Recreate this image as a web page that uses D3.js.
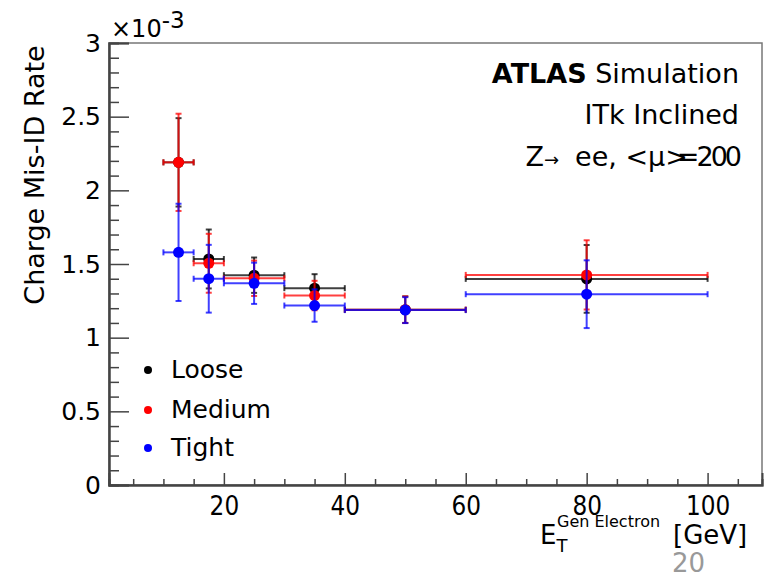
<!DOCTYPE html>
<html><head><meta charset="utf-8">
<script src="https://cdn.jsdelivr.net/npm/d3@7"></script>
<style>
body{margin:0;background:#fff;}
text{font-family:"DejaVu Sans",sans-serif;}
</style></head>
<body><svg id="c" width="776" height="572"></svg>
<script>
// ---- data (rate ×10^-3) ----
const binLow  = [10, 15, 20, 30, 40, 60];
const binHigh = [15, 20, 30, 40, 60, 100];
const binCenter = [12.5, 17.5, 25, 35, 50, 80];
const looseVal  = [2.19, 1.534, 1.424, 1.336, 1.19, 1.399];
const looseErr  = [0.30, 0.20, 0.12, 0.095, 0.09, 0.23];
const mediumVal = [2.19, 1.505, 1.403, 1.286, 1.19, 1.426];
const mediumErr = [0.33, 0.20, 0.12, 0.10, 0.09, 0.235];
const tightVal  = [1.579, 1.40, 1.369, 1.218, 1.187, 1.295];
const tightErr  = [0.33, 0.23, 0.14, 0.11, 0.088, 0.23];
const seriesNames = ["Loose", "Medium", "Tight"];
const seriesColors = ["#000000", "#ff0000", "#0000ff"];
const xMajor = [20, 40, 60, 80, 100];
const yMajor = [0, 0.5, 1, 1.5, 2, 2.5, 3];
const yTickLabels = ["0", "0.5", "1", "1.5", "2", "2.5", "3"];

const svg = d3.select("#c");
svg.append("rect").attr("width",776).attr("height",572).attr("fill","#fff");
const L=109, R=762, T=43, B=485;
const x = d3.scaleLinear().domain([1,109]).range([L,R]);
const y = d3.scaleLinear().domain([0,3]).range([B,T]);
const axisCol="#444";

// frame
svg.append("rect").attr("x",L).attr("y",T).attr("width",R-L).attr("height",B-T)
  .attr("fill","none").attr("stroke","#777").attr("stroke-width",1.5);

// x axis
const xMinor = d3.range(5,110,5).filter(v=>!xMajor.includes(v));
const gxm = svg.append("g").attr("transform",`translate(0,${B})`)
  .call(d3.axisBottom(x).tickValues(xMinor).tickSize(-6).tickFormat(""));
const gx = svg.append("g").attr("transform",`translate(0,${B})`)
  .call(d3.axisBottom(x).tickValues(xMajor).tickSize(-12).tickPadding(11).tickFormat(d3.format("d")));
[gx,gxm].forEach(g=>{g.select(".domain").attr("stroke",axisCol).attr("stroke-width",2);
  g.selectAll(".tick line").attr("stroke",axisCol).attr("stroke-width",1.5);});
gx.selectAll(".tick text").attr("font-size",27).attr("fill","#000").attr("transform","scale(0.86,1)");

// y axis
const yMinor = d3.range(0,31).map(i=>i/10).filter(v=>!yMajor.some(m=>Math.abs(m-v)<1e-9));
const gym = svg.append("g").attr("transform",`translate(${L},0)`)
  .call(d3.axisLeft(y).tickValues(yMinor).tickSize(-10).tickFormat(""));
const gy = svg.append("g").attr("transform",`translate(${L},0)`)
  .call(d3.axisLeft(y).tickValues(yMajor).tickSize(-20).tickPadding(8)
     .tickFormat((d,i)=>yTickLabels[i]));
[gy,gym].forEach(g=>{g.select(".domain").attr("stroke",axisCol).attr("stroke-width",2);
  g.selectAll(".tick line").attr("stroke",axisCol).attr("stroke-width",1.5);});
gy.selectAll(".tick text").attr("font-size",25).attr("fill","#000");

// ×10^-3
const mult = svg.append("text").attr("x",111).attr("y",37).attr("font-size",24).attr("fill","#000");
mult.append("tspan").text("×10");
mult.append("tspan").attr("dy",-9).attr("font-size",23).text("-3");

// y title
svg.append("text").attr("transform","translate(44,175) rotate(-90)")
  .attr("text-anchor","middle").attr("font-size",27).attr("fill","#000").text("Charge Mis-ID Rate");

// x title
const xt = svg.append("text").attr("x",540).attr("y",544).attr("font-size",26).attr("fill","#000");
xt.append("tspan").text("E");
xt.append("tspan").attr("dy",8).attr("font-size",18).text("T");
xt.append("tspan").attr("x",557).attr("y",527).attr("font-size",16).text("Gen Electron");
xt.append("tspan").attr("x",673).attr("y",544).text("[GeV]");

// page number
svg.append("text").attr("x",672).attr("y",572).attr("font-size",26).attr("fill","#999").text("20");

// labels
svg.append("text").attr("x",739).attr("y",83).attr("text-anchor","end").attr("font-size",27)
  .html('<tspan font-weight="bold">ATLAS</tspan> Simulation');
svg.append("text").attr("x",739).attr("y",124).attr("text-anchor","end").attr("font-size",27).text("ITk Inclined");
const zt = svg.append("text").attr("x",739).attr("y",166).attr("font-size",27).attr("text-anchor","end");
zt.append("tspan").text("Z");
zt.append("tspan").attr("font-size",18).text("→");
zt.append("tspan").attr("dx",16).text("ee, <μ>");
zt.append("tspan").attr("dx",-11).attr("letter-spacing",-3).text("=200");

// data
const series = [
  {vals:looseVal, errs:looseErr},
  {vals:mediumVal, errs:mediumErr},
  {vals:tightVal, errs:tightErr}
];
series.forEach((s,si)=>{
  const col = seriesColors[si];
  const g = svg.append("g").attr("stroke",col).attr("fill",col);
  binCenter.forEach((c,i)=>{
    const v=s.vals[i], e=s.errs[i];
    const gg=g.append("g").attr("stroke-opacity",0.75).attr("stroke-width",2);
    gg.append("line").attr("x1",x(binLow[i])).attr("x2",x(binHigh[i])).attr("y1",y(v)).attr("y2",y(v));
    gg.append("line").attr("x1",x(c)).attr("x2",x(c)).attr("y1",y(v-e)).attr("y2",y(v+e));
    [binLow[i],binHigh[i]].forEach(b=>gg.append("line").attr("x1",x(b)).attr("x2",x(b)).attr("y1",y(v)-3).attr("y2",y(v)+3));
    [v-e,v+e].forEach(b=>gg.append("line").attr("x1",x(c)-3).attr("x2",x(c)+3).attr("y1",y(b)).attr("y2",y(b)));
    g.append("circle").attr("cx",x(c)).attr("cy",y(v)).attr("r",5.5).attr("stroke","none");
  });
});

// legend
const legY=[370,410,448];
seriesNames.forEach((n,i)=>{
  svg.append("circle").attr("cx",148).attr("cy",legY[i]).attr("r",4).attr("fill",seriesColors[i]);
  svg.append("text").attr("x",171).attr("y",legY[i]+8).attr("font-size",25).attr("fill","#000").text(n);
});
</script></body></html>
